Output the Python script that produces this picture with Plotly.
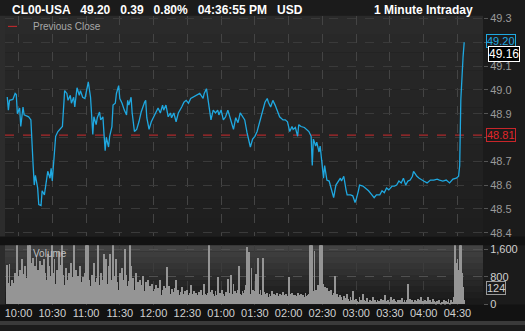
import plotly.graph_objects as go
import pandas as pd

W, H = 525, 331

# ---------------- data ----------------
price_min = [-10, -9, -8, -5, -3, -2, -1, 1, 2, 4, 5, 7, 9, 11, 12, 13, 14, 15, 17, 18,
             20, 21, 23, 24, 26, 28, 29, 30, 32, 33, 35, 37, 39, 41, 43, 44, 46, 47, 49, 50,
             52, 54, 55, 57, 59, 61, 62, 64, 65, 66, 67, 69, 70, 72, 73, 75, 76, 77, 78, 80,
             81, 83, 84, 86, 87, 89, 90, 92, 94, 96, 97, 98, 100, 101, 103, 105, 107, 109, 112, 113,
             114, 116, 118, 120, 122, 124, 126, 128, 129, 131, 133, 135, 136, 138, 140, 142, 145, 147, 149, 151,
             153, 155, 158, 161, 164, 165, 167, 169, 171, 173, 175, 177, 178, 180, 182, 184, 186, 188, 191, 193,
             195, 197, 199, 201, 203, 206, 208, 210, 212, 215, 217, 219, 221, 222, 224, 226, 228, 230, 232, 235,
             237, 239, 241, 243, 244, 246, 248, 249, 251, 254, 256, 258, 260, 261, 262, 264, 265, 267, 268, 270,
             271, 272, 274, 276, 278, 280, 282, 284, 286, 287, 289, 291, 292, 295, 297, 299, 300, 302, 303, 306,
             308, 311, 314, 316, 318, 321, 323, 325, 327, 329, 332, 334, 336, 338, 340, 342, 344, 346, 348, 350,
             351, 354, 356, 358, 360, 363, 366, 369, 372, 374, 377, 380, 383, 386, 389, 391, 392, 393, 394, 395,
             396]
price = [48.970, 48.915, 48.956, 48.960, 48.985, 48.980, 48.900, 48.924, 48.846, 48.928,
         48.895, 48.890, 48.887, 48.874, 48.752, 48.682, 48.600, 48.641, 48.588, 48.518,
         48.514, 48.576, 48.559, 48.588, 48.658, 48.629, 48.670, 48.617, 48.764, 48.805,
         48.825, 48.834, 48.846, 48.997, 48.985, 48.956, 48.977, 48.944, 48.969, 48.928,
         49.009, 48.977, 48.997, 48.969, 48.964, 49.009, 49.034, 48.969, 48.887, 48.813,
         48.887, 48.854, 48.883, 48.907, 48.874, 48.887, 48.813, 48.744, 48.801, 48.760,
         48.805, 48.846, 48.936, 48.944, 48.985, 49.018, 48.964, 48.944, 48.915, 48.895,
         48.956, 48.936, 48.969, 48.903, 48.825, 48.834, 48.866, 48.907, 48.948, 48.956,
         48.883, 48.834, 48.866, 48.887, 48.903, 48.924, 48.903, 48.936, 48.915, 48.936,
         48.887, 48.903, 48.883, 48.903, 48.866, 48.903, 48.928, 48.948, 48.956, 48.944,
         48.964, 48.969, 48.977, 48.985, 48.964, 48.985, 49.005, 48.928, 48.874, 48.915,
         48.903, 48.915, 48.895, 48.915, 48.874, 48.887, 48.915, 48.883, 48.834, 48.883,
         48.862, 48.903, 48.887, 48.874, 48.821, 48.760, 48.793, 48.805, 48.825, 48.874,
         48.915, 48.948, 48.964, 48.948, 48.928, 48.956, 48.936, 48.915, 48.887, 48.874,
         48.874, 48.866, 48.825, 48.846, 48.834, 48.842, 48.805, 48.854, 48.846, 48.842,
         48.834, 48.825, 48.805, 48.682, 48.793, 48.764, 48.780, 48.739, 48.764, 48.682,
         48.629, 48.682, 48.621, 48.617, 48.580, 48.547, 48.600, 48.617, 48.629, 48.617,
         48.637, 48.580, 48.559, 48.559, 48.555, 48.527, 48.539, 48.576, 48.600, 48.596,
         48.588, 48.576, 48.559, 48.547, 48.559, 48.559, 48.576, 48.568, 48.588, 48.580,
         48.596, 48.596, 48.600, 48.617, 48.609, 48.629, 48.600, 48.617, 48.621, 48.637,
         48.658, 48.637, 48.629, 48.621, 48.617, 48.609, 48.621, 48.621, 48.625, 48.621,
         48.617, 48.621, 48.609, 48.625, 48.629, 48.637, 48.682, 48.960, 49.070, 49.140,
         49.200]

vol_start_min = -10
volume = [1150, 620, 1180, 540, 700, 480, 620, 900, 380, 1750,
          820, 1000, 640, 1300, 880, 560, 1100, 760, 1750, 1800,
          1750, 1200, 880, 1350, 700, 1100, 1400, 980, 620, 1250,
          800, 1150, 560, 1300, 900, 700, 1450, 1100, 820, 640,
          1750, 900, 1300, 600, 1000, 480, 1500, 720, 1150, 1750,
          860, 560, 1050, 700, 420, 900, 560, 1200, 800, 1750,
          680, 1000, 560, 820, 450, 1100, 640, 780, 500, 900,
          1800, 1800, 1750, 700, 520, 860, 400, 1200, 640, 500,
          760, 1750, 560, 900, 440, 700, 1450, 520, 1300, 600,
          1100, 1450, 480, 700, 1750, 560, 820, 1300, 640, 420,
          900, 560, 1050, 700, 480, 1600, 860, 520, 680, 1750,
          1100, 560, 760, 420, 900, 520, 640, 380, 700, 480,
          560, 820, 400, 640, 360, 700, 460, 520, 320, 600,
          380, 440, 560, 300, 480, 360, 700, 280, 420, 520,
          340, 460, 1070, 380, 520, 300, 440, 360, 260, 480,
          700, 340, 420, 280, 360, 500, 300, 240, 380, 300,
          420, 260, 340, 560, 300, 240, 380, 280, 320, 260,
          360, 300, 420, 240, 280, 600, 300, 260, 340, 1750,
          360, 280, 420, 300, 240, 380, 260, 780, 300, 340,
          260, 420, 300, 240, 360, 280, 720, 340, 260, 840,
          300, 600, 380, 260, 340, 420, 1100, 300, 260, 380,
          320, 420, 560, 1650, 360, 1500, 300, 1050, 420, 320,
          380, 880, 260, 1350, 300, 420, 280, 1350, 360, 300,
          260, 340, 200, 300, 240, 380, 220, 300, 260, 200,
          340, 240, 300, 200, 280, 360, 220, 260, 300, 240,
          780, 300, 220, 340, 260, 200, 280, 240, 320, 200,
          260, 300, 220, 280, 200, 340, 240, 260, 300, 1750,
          1750, 1750, 380, 1550, 420, 300, 560, 400, 1750, 1750,
          1750, 600, 500, 340, 460, 280, 380, 300, 420, 260,
          340, 820, 260, 300, 220, 180, 260, 200, 140, 240,
          180, 120, 300, 160, 100, 200, 140, 400, 120, 80,
          160, 100, 60, 200, 140, 80, 300, 120, 60, 100,
          180, 80, 140, 60, 100, 200, 80, 120, 60, 140,
          100, 60, 160, 80, 120, 60, 280, 100, 140, 60,
          80, 200, 120, 60, 160, 100, 80, 140, 60, 120,
          100, 180, 60, 140, 80, 120, 600, 100, 160, 60,
          120, 80, 140, 100, 60, 160, 80, 120, 200, 100,
          60, 140, 80, 100, 220, 60, 120, 80, 160, 100,
          60, 40, 100, 60, 120, 20, 80, 60, 140, 40,
          100, 60, 160, 40, 120, 80, 60, 200, 1750, 1200,
          1300, 1000, 1750, 1750, 900, 500, 124]

prev_close = 48.81
last_price = 49.20
marker_price = 49.16
last_volume = 124

price_ticks = [48.4, 48.5, 48.6, 48.7, 48.8, 48.9, 49.0, 49.1, 49.2, 49.3]
hidden_price_ticks = [48.8, 49.2]   # covered by the value boxes in the original
volume_ticks = [0, 800, 1600]
time_tick_labels = ["10:00", "10:30", "11:00", "11:30", "12:00", "12:30", "01:00",
                    "01:30", "02:00", "02:30", "03:00", "03:30", "04:00", "04:30"]

title_left = "CL00-USA   49.20   0.39   0.80%   04:36:55 PM   USD"
title_right = "1 Minute Intraday"

# ---------------- build ----------------
base = pd.Timestamp("2016-06-01 10:00")
t_price = [base + pd.Timedelta(minutes=m) for m in price_min]
t_vol = [base + pd.Timedelta(minutes=vol_start_min + i) for i in range(len(volume))]
tick_times = [base + pd.Timedelta(minutes=30 * i) for i in range(len(time_tick_labels))]
x_range = [base + pd.Timedelta(minutes=-12), base + pd.Timedelta(minutes=412.7)]


def px(x):
    return x / W


def py(y):
    return 1 - y / H


FONT = "Arial, Liberation Sans, sans-serif"

fig = go.Figure()

fig.add_trace(go.Scatter(x=x_range, y=[prev_close, prev_close], mode="lines",
                         line=dict(color="#d02a2e", width=1, dash="dash"),
                         xaxis="x", yaxis="y", hoverinfo="skip", showlegend=False))
fig.add_trace(go.Scatter(x=t_price, y=price, mode="lines",
                         line=dict(color="#1fa8e0", width=1.3),
                         xaxis="x", yaxis="y", showlegend=False))
fig.add_trace(go.Bar(x=t_vol, y=volume, marker=dict(color="#959595", line=dict(width=0)),
                     width=60000 * 0.8, xaxis="x2", yaxis="y2", showlegend=False))

main_dom = [py(240), py(13)]
vol_dom = [py(310), py(249)]
x_dom = [px(5), px(483)]

grid = "#444444"
fig.update_layout(
    width=W, height=H, margin=dict(l=0, r=0, t=0, b=0),
    paper_bgcolor="#1b1b1b", plot_bgcolor="rgba(0,0,0,0)",
    font=dict(family=FONT, color="#bbbbbb", size=11),
    bargap=0,
    xaxis=dict(domain=x_dom, anchor="y", range=x_range, type="date",
               tickvals=tick_times, ticktext=[""] * len(tick_times), showticklabels=False,
               showgrid=True, gridcolor=grid, griddash="dash", gridwidth=1,
               zeroline=False, showline=False, ticks=""),
    yaxis=dict(domain=main_dom, anchor="x", side="right", range=[48.384, 49.312],
               tickvals=price_ticks,
               ticktext=["" if v in hidden_price_ticks else f"{v:.1f}" for v in price_ticks],
               tickfont=dict(color="#9a9a9a", size=11, family=FONT),
               showgrid=True, gridcolor="#3a3a3a", griddash="dash", gridwidth=1,
               ticks="outside", ticklen=4, tickcolor="#555555",
               zeroline=False, showline=False),
    xaxis2=dict(domain=x_dom, anchor="y2", range=x_range, type="date",
                tickvals=tick_times, ticktext=time_tick_labels,
                tickfont=dict(color="#d0d0d0", size=11, family=FONT),
                showgrid=True, gridcolor="#3c3c3c", griddash="dash", gridwidth=1,
                ticks="", zeroline=False, showline=False),
    yaxis2=dict(domain=vol_dom, anchor="x2", side="right", range=[0, 1715],
                tickvals=volume_ticks, ticktext=[f"{v:,}" for v in volume_ticks],
                tickfont=dict(color="#cfcfcf", size=11, family=FONT),
                showgrid=True, gridcolor="#505050", griddash="dash", gridwidth=1,
                ticks="outside", ticklen=4, tickcolor="#555555",
                zeroline=False, showline=False),
)

shapes = []
# left strip & bottom strip
shapes.append(dict(type="rect", xref="paper", yref="paper", x0=0, x1=px(5), y0=py(327), y1=py(13),
                   fillcolor="#2c2c2c", line=dict(width=0), layer="below"))
shapes.append(dict(type="rect", xref="paper", yref="paper", x0=0, x1=1, y0=0, y1=py(326),
                   fillcolor="#3a3a3a", line=dict(width=0), layer="below"))
shapes.append(dict(type="rect", xref="paper", yref="paper", x0=0, x1=1, y0=py(249), y1=py(240),
                   fillcolor="#121212", line=dict(width=0), layer="below"))
shapes.append(dict(type="rect", xref="paper", yref="paper", x0=0, x1=1, y0=py(327), y1=py(310),
                   fillcolor="#121212", line=dict(width=0), layer="below"))
# main panel gradient
n = 12
for i in range(n):
    f = i / (n - 1)
    c = int(42 - 12 * f)
    y0 = 13 + (240 - 13) * i / n
    y1 = 13 + (240 - 13) * (i + 1) / n
    shapes.append(dict(type="rect", xref="paper", yref="paper", x0=px(5), x1=px(483),
                       y0=py(y1), y1=py(y0), fillcolor=f"rgb({c},{c},{c})",
                       line=dict(width=0), layer="below"))
# volume panel gradient
n = 10
for i in range(n):
    f = i / (n - 1)
    c = int(66 - 40 * f)
    y0 = 249 + (310 - 249) * i / n
    y1 = 249 + (310 - 249) * (i + 1) / n
    shapes.append(dict(type="rect", xref="paper", yref="paper", x0=px(5), x1=px(483),
                       y0=py(y1), y1=py(y0), fillcolor=f"rgb({c},{c},{c})",
                       line=dict(width=0), layer="below"))
# legend sample
shapes.append(dict(type="line", xref="paper", yref="paper", x0=px(8), x1=px(25), y0=py(24), y1=py(24),
                   line=dict(color="#d02a2e", width=1, dash="dash")))
fig.update_layout(shapes=shapes)

ann = []
ann.append(dict(text=title_left, x=px(10), y=py(7), xref="paper", yref="paper", xanchor="left",
                yanchor="middle", showarrow=False,
                font=dict(color="#ffffff", size=12, family=FONT, weight="bold")))
ann.append(dict(text=title_right, x=px(475), y=py(7), xref="paper", yref="paper", xanchor="right",
                yanchor="middle", showarrow=False,
                font=dict(color="#ffffff", size=12, family=FONT, weight="bold")))
ann.append(dict(text="Previous Close", x=px(31), y=py(24), xref="paper", yref="paper", xanchor="left",
                yanchor="middle", showarrow=False, font=dict(color="#a8a8a8", size=10, family=FONT)))
ann.append(dict(text="Volume", x=px(31), y=py(257), xref="paper", yref="paper", xanchor="left",
                yanchor="middle", showarrow=False, font=dict(color="#c0c0c0", size=10, family=FONT)))
ann.append(dict(text=f"{last_price:.2f}", x=px(486), y=last_price, xref="paper", yref="y",
                xanchor="left", yanchor="middle", showarrow=False, yshift=1,
                font=dict(color="#1fa8e0", size=11, family=FONT),
                bgcolor="#1b1b1b", bordercolor="#1fa8e0", borderwidth=1, borderpad=0))
ann.append(dict(text=f"{marker_price:.2f}", x=px(488), y=py(52), xref="paper", yref="paper",
                xanchor="left", yanchor="middle", showarrow=False,
                font=dict(color="#ffffff", size=12, family=FONT),
                bgcolor="#000000", bordercolor="#ffffff", borderwidth=1, borderpad=0))
ann.append(dict(text=f"{prev_close:.2f}", x=px(486), y=prev_close, xref="paper", yref="y",
                xanchor="left", yanchor="middle", showarrow=False,
                font=dict(color="#e3262a", size=11, family=FONT),
                bgcolor="#1b1b1b", bordercolor="#c8262a", borderwidth=1, borderpad=0))
ann.append(dict(text=f"{last_volume}", x=px(486), y=py(293), xref="paper", yref="paper",
                xanchor="left", yanchor="middle", showarrow=False,
                font=dict(color="#cfcfcf", size=11, family=FONT),
                bgcolor="#1b1b1b", bordercolor="#9a9a9a", borderwidth=1, borderpad=0))
fig.update_layout(annotations=ann)

fig.write_html("out.html")
